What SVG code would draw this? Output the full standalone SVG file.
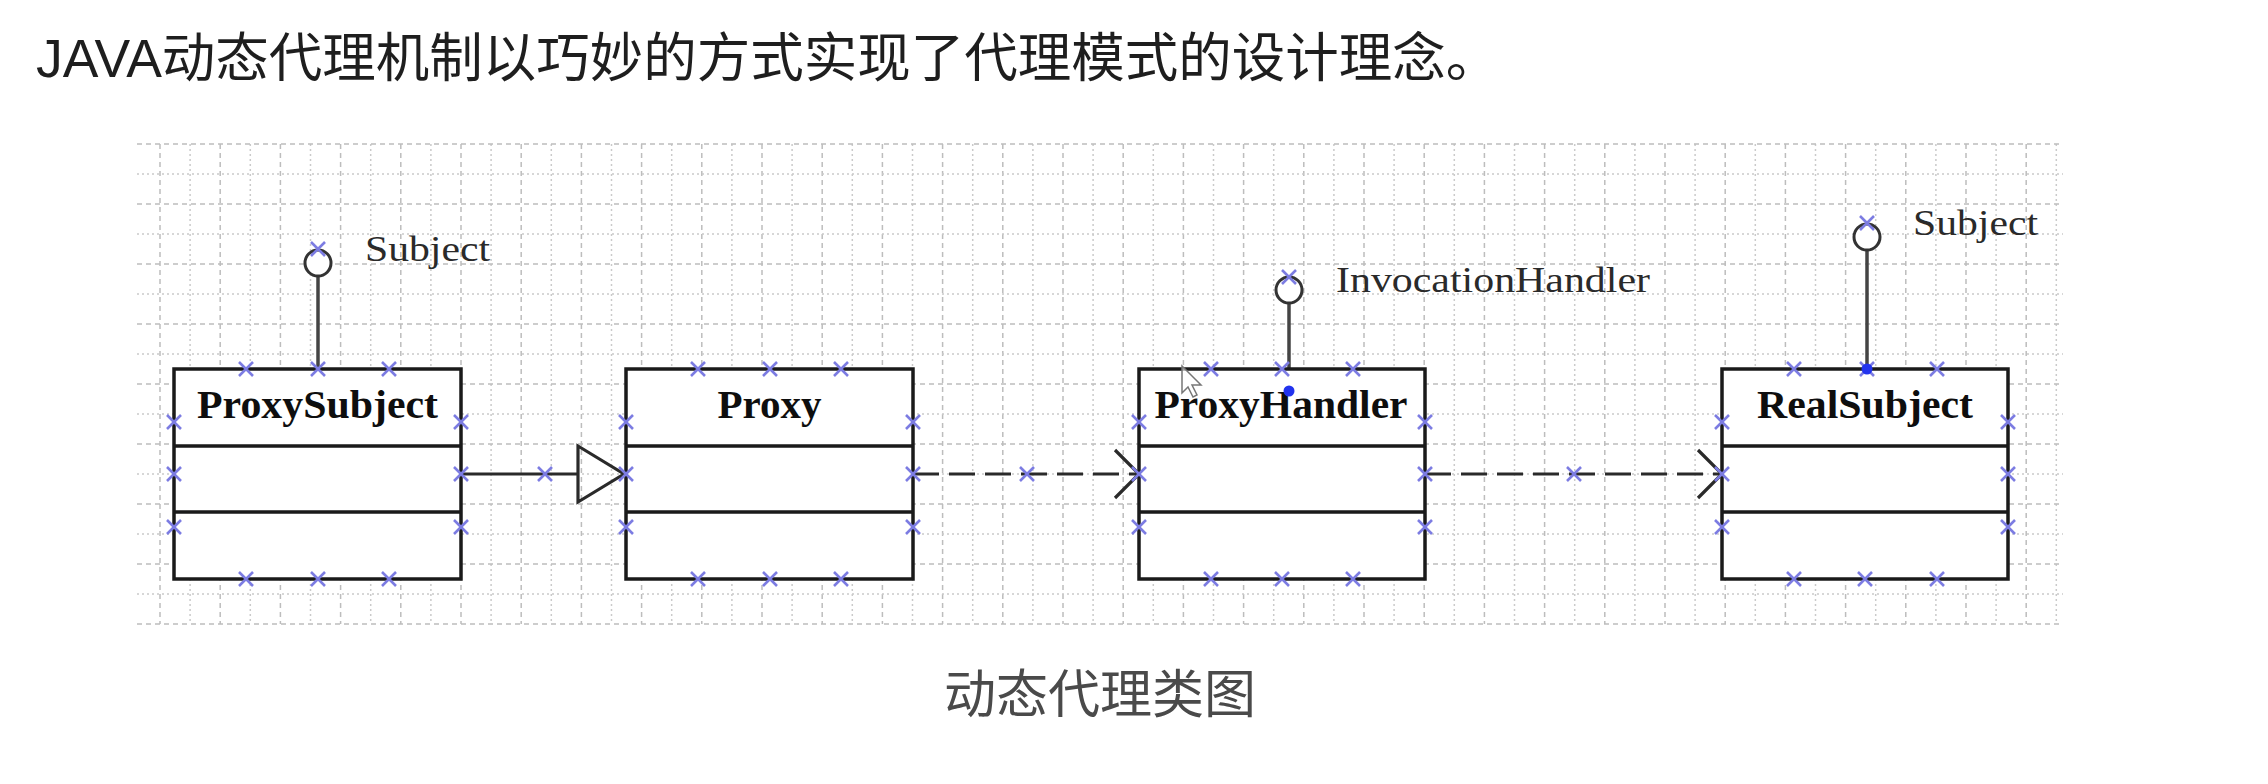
<svg xmlns="http://www.w3.org/2000/svg" xmlns:xlink="http://www.w3.org/1999/xlink" width="2268" height="784" viewBox="0 0 2268 784">
<style>
.title{font-family:"Liberation Sans","Noto Sans CJK SC",sans-serif;font-size:53.5px;fill:#1e1e1e}
.cap{font-family:"Liberation Sans","Noto Sans CJK SC",sans-serif;font-size:52px;fill:#4a4a4a}
.gA{stroke:#bdbdbd;stroke-width:1.5;stroke-dasharray:5 4;fill:none}
.gB{stroke:#cacaca;stroke-width:1.5;stroke-dasharray:2 3;fill:none}
.box{fill:#fff;stroke:#1a1a1a;stroke-width:3.5}
.div{stroke:#1a1a1a;stroke-width:3.5;fill:none}
.name{font-family:"Liberation Serif",serif;font-weight:bold;font-size:40px;fill:#0e0e0e}
.lbl{font-family:"Liberation Serif",serif;font-size:36px;fill:#2a2a2a}
.lol{fill:#fff;stroke:#333;stroke-width:3}
.stem{stroke:#444;stroke-width:3.5;fill:none}
.conn{stroke:#2a2a2a;stroke-width:3.2;fill:none}
.dash{stroke-dasharray:26 10}
.xm{stroke:#7c7ce2;stroke-width:2.6;fill:none}
.dot{fill:#2233ee}
</style>
<defs>
<path id="xm" class="xm" d="M-7,-7L7,7M-7,7L7,-7"/>
</defs>
<rect width="2268" height="784" fill="#fff"/>
<text class="title" x="36" y="77">JAVA动态代理机制以巧妙的方式实现了代理模式的设计理念。</text>
<g id="grid">
<path class="gA" d="M160 144V624M220.2 144V624M280.4 144V624M340.6 144V624M400.8 144V624M461 144V624M521.2 144V624M581.4 144V624M641.6 144V624M701.8 144V624M762 144V624M822.2 144V624M882.4 144V624M942.6 144V624M1002.8 144V624M1063 144V624M1123.2 144V624M1183.4 144V624M1243.6 144V624M1303.8 144V624M1364 144V624M1424.2 144V624M1484.4 144V624M1544.6 144V624M1604.8 144V624M1665 144V624M1725.2 144V624M1785.4 144V624M1845.6 144V624M1905.8 144V624M1966 144V624M2026.2 144V624"/>
<path class="gB" d="M190.1 144V624M250.3 144V624M310.5 144V624M370.7 144V624M430.9 144V624M491.1 144V624M551.3 144V624M611.5 144V624M671.7 144V624M731.9 144V624M792.1 144V624M852.3 144V624M912.5 144V624M972.7 144V624M1032.9 144V624M1093.1 144V624M1153.3 144V624M1213.5 144V624M1273.7 144V624M1333.9 144V624M1394.1 144V624M1454.3 144V624M1514.5 144V624M1574.7 144V624M1634.9 144V624M1695.1 144V624M1755.3 144V624M1815.5 144V624M1875.7 144V624M1935.9 144V624M1996.1 144V624M2056.3 144V624"/>
<path class="gA" d="M137 144H2063M137 204H2063M137 264H2063M137 324H2063M137 384H2063M137 444H2063M137 504H2063M137 564H2063M137 624H2063"/>
<path class="gB" d="M137 174H2063M137 234H2063M137 294H2063M137 354H2063M137 414H2063M137 474H2063M137 534H2063M137 594H2063"/>
</g>
<g id="connectors">
<path class="stem" d="M318 276V369"/>
<path class="stem" d="M1289 303V369"/>
<path class="stem" d="M1867 250V369"/>
<path class="conn" d="M461 474H578"/>
<path class="conn" d="M578 446L624 474L578 502Z" fill="#fff"/>
<path class="conn dash" d="M913 474H1137"/>
<path class="conn" d="M1115 450L1139 474L1115 498"/>
<path class="conn dash" d="M1425 474H1720"/>
<path class="conn" d="M1698 450L1722 474L1698 498"/>
<use href="#xm" x="545" y="474"/>
<use href="#xm" x="1027" y="474"/>
<use href="#xm" x="1574" y="474"/>
</g>
<g id="ProxySubject">
<rect class="box" x="174" y="369" width="287" height="210"/>
<path class="div" d="M174 446H461M174 512H461"/>
<text class="name" x="317.5" y="418" text-anchor="middle" textLength="241" lengthAdjust="spacingAndGlyphs">ProxySubject</text>
<use href="#xm" x="246" y="369"/><use href="#xm" x="318" y="369"/><use href="#xm" x="389" y="369"/>
<use href="#xm" x="246" y="579"/><use href="#xm" x="318" y="579"/><use href="#xm" x="389" y="579"/>
<use href="#xm" x="174" y="422"/><use href="#xm" x="174" y="474"/><use href="#xm" x="174" y="527"/>
<use href="#xm" x="461" y="422"/><use href="#xm" x="461" y="474"/><use href="#xm" x="461" y="527"/>
</g>
<g id="Proxy">
<rect class="box" x="626" y="369" width="287" height="210"/>
<path class="div" d="M626 446H913M626 512H913"/>
<text class="name" x="769.5" y="418" text-anchor="middle" textLength="104" lengthAdjust="spacingAndGlyphs">Proxy</text>
<use href="#xm" x="698" y="369"/><use href="#xm" x="770" y="369"/><use href="#xm" x="841" y="369"/>
<use href="#xm" x="698" y="579"/><use href="#xm" x="770" y="579"/><use href="#xm" x="841" y="579"/>
<use href="#xm" x="626" y="422"/><use href="#xm" x="626" y="474"/><use href="#xm" x="626" y="527"/>
<use href="#xm" x="913" y="422"/><use href="#xm" x="913" y="474"/><use href="#xm" x="913" y="527"/>
</g>
<g id="ProxyHandler">
<rect class="box" x="1139" y="369" width="286" height="210"/>
<path class="div" d="M1139 446H1425M1139 512H1425"/>
<text class="name" x="1281" y="418" text-anchor="middle" textLength="253" lengthAdjust="spacingAndGlyphs">ProxyHandler</text>
<use href="#xm" x="1211" y="369"/><use href="#xm" x="1282" y="369"/><use href="#xm" x="1353" y="369"/>
<use href="#xm" x="1211" y="579"/><use href="#xm" x="1282" y="579"/><use href="#xm" x="1353" y="579"/>
<use href="#xm" x="1139" y="422"/><use href="#xm" x="1139" y="474"/><use href="#xm" x="1139" y="527"/>
<use href="#xm" x="1425" y="422"/><use href="#xm" x="1425" y="474"/><use href="#xm" x="1425" y="527"/>
<circle class="dot" cx="1289" cy="391" r="5.5"/>
</g>
<g id="RealSubject">
<rect class="box" x="1722" y="369" width="286" height="210"/>
<path class="div" d="M1722 446H2008M1722 512H2008"/>
<text class="name" x="1865" y="418" text-anchor="middle" textLength="216" lengthAdjust="spacingAndGlyphs">RealSubject</text>
<use href="#xm" x="1794" y="369"/><use href="#xm" x="1867" y="369"/><use href="#xm" x="1937" y="369"/>
<use href="#xm" x="1794" y="579"/><use href="#xm" x="1865" y="579"/><use href="#xm" x="1937" y="579"/>
<use href="#xm" x="1722" y="422"/><use href="#xm" x="1722" y="474"/><use href="#xm" x="1722" y="527"/>
<use href="#xm" x="2008" y="422"/><use href="#xm" x="2008" y="474"/><use href="#xm" x="2008" y="527"/>
<circle class="dot" cx="1867" cy="369" r="5.5"/>
</g>
<g id="Subject-interface-left">
<circle class="lol" cx="318" cy="263" r="13"/>
<use href="#xm" x="318" y="249"/>
<text class="lbl" x="365" y="261" textLength="125" lengthAdjust="spacingAndGlyphs">Subject</text>
</g>
<g id="InvocationHandler-interface">
<circle class="lol" cx="1289" cy="290" r="13"/>
<use href="#xm" x="1289" y="277"/>
<text class="lbl" x="1336" y="292" textLength="314" lengthAdjust="spacingAndGlyphs">InvocationHandler</text>
</g>
<g id="Subject-interface-right">
<circle class="lol" cx="1867" cy="237" r="13"/>
<use href="#xm" x="1867" y="223"/>
<text class="lbl" x="1913" y="235" textLength="125" lengthAdjust="spacingAndGlyphs">Subject</text>
</g>
<path id="cursor" d="M1182 366V393L1188 387L1193 397L1197 395L1192 385L1201 385Z" fill="#fff" fill-opacity="0.6" stroke="#777" stroke-width="1.5"/>
<text class="cap" x="1100" y="713" text-anchor="middle">动态代理类图</text>
</svg>
